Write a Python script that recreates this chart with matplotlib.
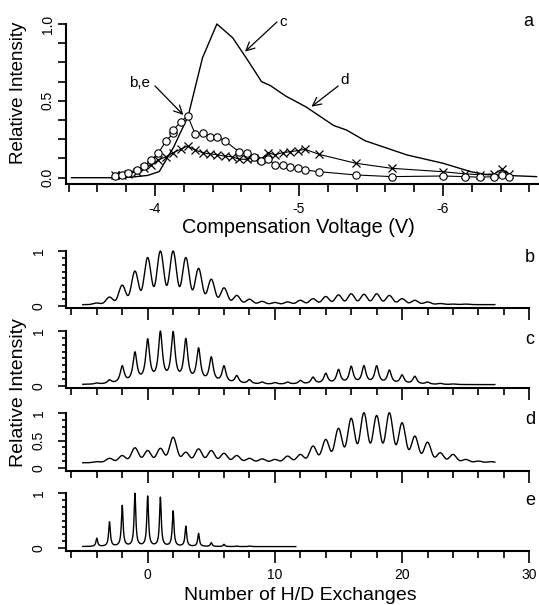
import matplotlib
matplotlib.use('Agg')
import matplotlib.pyplot as plt
import numpy as np
from matplotlib.ticker import MultipleLocator, FixedLocator

plt.rcParams['font.family'] = ['Liberation Sans', 'DejaVu Sans']
plt.rcParams['axes.unicode_minus'] = False

# ---------------- data: panel a ----------------
cv_line = [-3.42, -3.75, -3.85, -3.95, -4.03, -4.13, -4.23, -4.33, -4.43, -4.54, -4.64,
           -4.74, -4.80, -4.91, -5.05, -5.24, -5.33, -5.46, -5.75, -6.00, -6.19, -6.30, -6.65]
int_line = [0.0, 0.0, 0.005, 0.015, 0.04, 0.20, 0.40, 0.78, 1.0, 0.91, 0.77,
            0.625, 0.60, 0.53, 0.46, 0.34, 0.31, 0.24, 0.148, 0.094, 0.04, 0.02, 0.007]

cv_circ = [-3.722, -3.769, -3.815, -3.873, -3.924, -3.972, -4.023, -4.076, -4.127, -4.127,
           -4.178, -4.227, -4.28, -4.331, -4.382, -4.432, -4.484, -4.586, -4.637, -4.688,
           -4.736, -4.787, -4.833, -4.886, -4.9375, -4.991, -5.042, -5.139, -5.394, -5.644,
           -5.998, -6.153, -6.257, -6.356, -6.408, -6.458]
int_circ = [0.011, 0.018, 0.028, 0.05, 0.078, 0.113, 0.159, 0.239, 0.289, 0.31,
            0.362, 0.403, 0.282, 0.289, 0.267, 0.267, 0.241, 0.167, 0.159, 0.137,
            0.111, 0.12, 0.083, 0.083, 0.072, 0.061, 0.05, 0.039, 0.018, 0.007,
            0.011, 0.007, 0.003, 0.007, 0.018, 0.007]

cv_cross = [-3.722, -3.769, -3.815, -3.873, -3.924, -3.972, -4.023, -4.076, -4.127, -4.178,
            -4.227, -4.28, -4.331, -4.382, -4.432, -4.484, -4.533, -4.586, -4.637, -4.688,
            -4.736, -4.787, -4.833, -4.886, -4.9375, -4.991, -5.042, -5.139, -5.394, -5.644,
            -5.998, -6.153, -6.257, -6.356, -6.408, -6.458]
int_cross = [0.015, 0.02, 0.025, 0.04, 0.061, 0.083, 0.115, 0.137, 0.163, 0.185,
             0.206, 0.18, 0.163, 0.154, 0.15, 0.14, 0.137, 0.12, 0.12, 0.128,
             0.12, 0.163, 0.148, 0.163, 0.169, 0.176, 0.185, 0.152, 0.094, 0.061,
             0.039, 0.025, 0.02, 0.025, 0.054, 0.025]

# ---------------- data: panels b-e (peak heights at each H/D exchange number) ----------------
exch = list(range(-5, 28))
peaks_b = [0.0, 0.03, 0.14, 0.36, 0.62, 0.87, 0.99, 0.99, 0.87, 0.67, 0.47, 0.31, 0.17, 0.10,
           0.06, 0.04, 0.05, 0.08, 0.11, 0.15, 0.18, 0.20, 0.19, 0.20, 0.17, 0.11, 0.08, 0.05,
           0.02, 0.01, 0.01, 0.0, 0.0]
peaks_c = [0.0, 0.02, 0.07, 0.33, 0.58, 0.82, 0.96, 0.95, 0.82, 0.65, 0.49, 0.33, 0.15, 0.08,
           0.04, 0.03, 0.04, 0.07, 0.13, 0.20, 0.27, 0.33, 0.34, 0.34, 0.26, 0.17, 0.15, 0.04,
           0.02, 0.01, 0.0, 0.0, 0.0]
peaks_d = [0.0, 0.02, 0.08, 0.13, 0.27, 0.22, 0.26, 0.46, 0.19, 0.25, 0.22, 0.17, 0.13, 0.08,
           0.07, 0.06, 0.12, 0.15, 0.30, 0.42, 0.62, 0.80, 0.90, 0.85, 0.90, 0.72, 0.48, 0.37,
           0.18, 0.15, 0.06, 0.03, 0.02]
exch_e = list(range(-5, 12))
peaks_e = [0.0, 0.15, 0.45, 0.75, 0.97, 0.92, 0.90, 0.65, 0.37, 0.24, 0.07, 0.04, 0.01, 0.01,
           0.0, 0.0, 0.0]
baseline = {'b': 0.02, 'c': 0.02, 'd': 0.10, 'e': 0.02}
trace_range = {'b': (-5.1, 27.3), 'c': (-5.1, 27.3), 'd': (-5.1, 27.3), 'e': (-5.1, 11.65)}

# ---------------- figure ----------------
W, H = 539, 605
fig = plt.figure(figsize=(W / 100, H / 100), dpi=100)


def px_rect(l, t, r, b):
    return [l / W, 1 - b / H, (r - l) / W, (b - t) / H]


def style_axes(ax):
    for s in ('top', 'right'):
        ax.spines[s].set_visible(False)
    for s in ('left', 'bottom'):
        ax.spines[s].set_linewidth(1.5)


# ---- panel a ----
ax = fig.add_axes(px_rect(66, 14, 539, 184))
style_axes(ax)
ax.set_xlim(-3.382, -6.667)
ax.set_ylim(-0.041, 1.065)
ax.spines['left'].set_bounds(-0.041, 1.0)
ax.plot(cv_line, int_line, color='black', lw=1.0, zorder=2)
ax.plot(cv_cross, int_cross, color='black', lw=0.8, marker='x', ms=5.5, mew=0.9, zorder=3)
ax.plot(cv_circ, int_circ, color='black', lw=0.8, marker='o', ms=5.3, mew=0.8,
        mfc='white', zorder=4)
ax.xaxis.set_major_locator(FixedLocator([-4, -5, -6]))
ax.xaxis.set_minor_locator(FixedLocator(np.round(np.arange(-3.4, -6.61, -0.2), 2)))
ax.set_xticklabels(['-4', '-5', '-6'])
ax.yaxis.set_major_locator(FixedLocator([0.0, 0.5, 1.0]))
ax.yaxis.set_minor_locator(MultipleLocator(0.125))
ax.set_yticklabels(['0.0', '0.5', '1.0'])
ax.tick_params(axis='x', which='major', length=8.4, width=1.2, pad=4.5, labelsize=10)
ax.tick_params(axis='x', which='minor', length=5.5, width=1.2)
ax.tick_params(axis='y', which='both', length=5.5, width=1.2, pad=2.5, labelsize=10)
for lbl in ax.get_yticklabels():
    lbl.set_rotation(90)
    lbl.set_va('center')

arrow_kw = dict(arrowstyle='->,head_length=0.5,head_width=0.25', lw=0.9, color='black',
                shrinkA=0, shrinkB=0, mutation_scale=12)
ax.annotate('', xy=(-4.625, 0.82), xytext=(-4.847, 1.013), arrowprops=arrow_kw)
ax.annotate('', xy=(-5.087, 0.462), xytext=(-5.273, 0.597), arrowprops=arrow_kw)
ax.annotate('', xy=(-4.197, 0.408), xytext=(-4.0, 0.597), arrowprops=arrow_kw)
ax.text(-4.89, 1.015, 'c', fontsize=11, ha='center', va='center', clip_on=False)
ax.text(-5.32, 0.635, 'd', fontsize=11, ha='center', va='center')
ax.text(-3.896, 0.614, 'b,e', fontsize=11, ha='center', va='center')

# ---- panels b-e ----
panels = [
    ('b', exch, peaks_b, 'gauss', 0.27, 251.0, 305.7, 308.3),
    ('c', exch, peaks_c, 'lorentz', 0.19, 331.0, 385.7, 388.3),
    ('d', exch, peaks_d, 'gauss', 0.28, 412.7, 468.3, 470.5),
    ('e', exch_e, peaks_e, 'lorentz', 0.08, 493.3, 547.7, 550.7),
]
for name, pos, hts, shape, wid, y1px, y0px, spx in panels:
    scale = y0px - y1px
    ybot = -(spx - y0px) / scale
    ytop = 1 + 3 / scale
    axp = fig.add_axes(px_rect(66, y1px - 3, 529.3, spx))
    style_axes(axp)
    axp.set_xlim(-6.42, 30)
    axp.set_ylim(ybot, ytop)
    axp.spines['left'].set_bounds(ybot, 1.0)
    lo, hi = trace_range[name]
    xs = np.arange(lo, hi, 0.01)
    ys = np.full_like(xs, baseline[name])
    for p, h in zip(pos, hts):
        if shape == 'gauss':
            ys += h * np.exp(-0.5 * ((xs - p) / wid) ** 2)
        else:
            ys += h / (1 + ((xs - p) / wid) ** 2)
    ys = ys / ys.max()
    axp.plot(xs, ys, color='black', lw=1.0)
    axp.xaxis.set_major_locator(FixedLocator([0, 10, 20, 30]))
    axp.xaxis.set_minor_locator(FixedLocator(list(range(-6, 31, 2))))
    axp.tick_params(axis='x', which='major', length=8.4, width=1.2, pad=4.2, labelsize=10)
    axp.tick_params(axis='x', which='minor', length=4.8, width=1.2)
    if name != 'e':
        axp.tick_params(axis='x', which='both', labelbottom=False)
    if name == 'd':
        axp.yaxis.set_major_locator(FixedLocator([0, 0.5, 1]))
        axp.set_yticklabels(['0', '0.5', '1'])
    else:
        axp.yaxis.set_major_locator(FixedLocator([0, 1]))
        axp.set_yticklabels(['0', '1'])
    axp.yaxis.set_minor_locator(MultipleLocator(0.125))
    axp.tick_params(axis='y', which='major', length=5.5, width=1.2, pad=9, labelsize=10)
    axp.tick_params(axis='y', which='minor', length=3.1, width=1.2)
    for lbl in axp.get_yticklabels():
        lbl.set_rotation(90)
        lbl.set_va('center')

# ---- labels ----
def ftext(xp, yp, s, **kw):
    fig.text(xp / W, 1 - yp / H, s, ha='center', va='center', **kw)

ftext(19, 93, 'Relative Intensity', rotation=90, fontsize=13.5)
ftext(19, 393, 'Relative Intensity', rotation=90, fontsize=14)
ftext(298, 228, 'Compensation Voltage (V)', fontsize=14.3)
ftext(300, 596, 'Number of H/D Exchanges', fontsize=14)
ftext(528.3, 21.7, 'a', fontsize=13)
ftext(530, 258, 'b', fontsize=13)
ftext(530, 339, 'c', fontsize=13)
ftext(530, 419.3, 'd', fontsize=13)
ftext(530, 500.7, 'e', fontsize=13)

fig.savefig('out.png', dpi=100)
